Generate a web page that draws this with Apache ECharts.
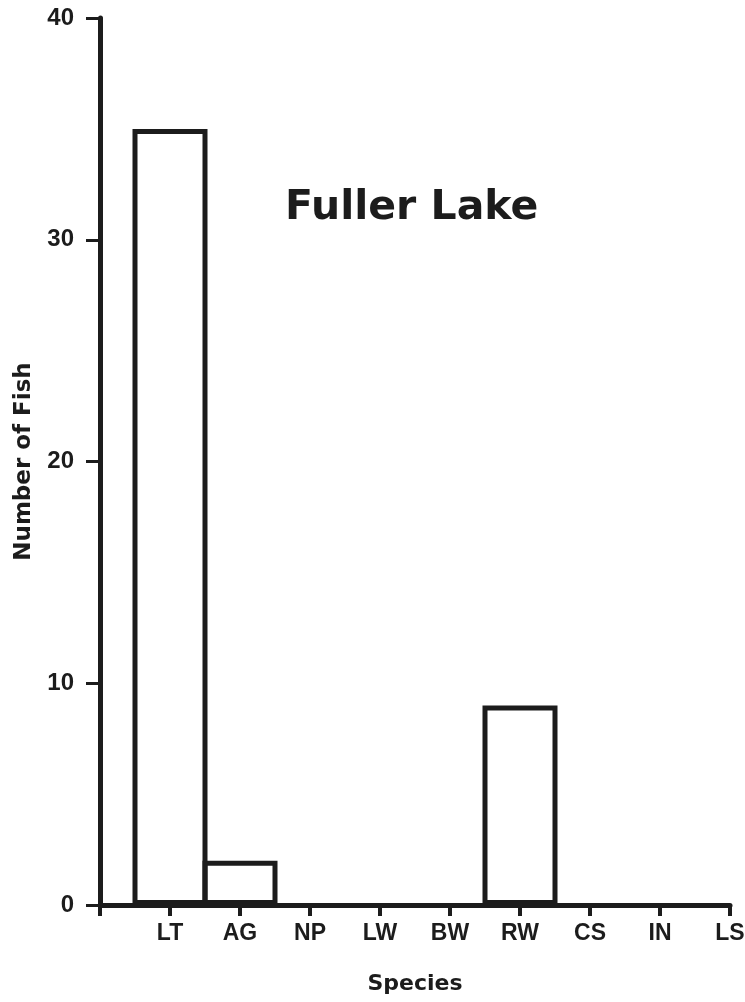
<!DOCTYPE html>
<html>
<head>
<meta charset="utf-8">
<title>Fuller Lake</title>
<script src="https://cdn.jsdelivr.net/npm/echarts@6/dist/echarts.min.js"></script>
<style>
  html, body { margin: 0; padding: 0; background: #fff; }
  #chart { width: 745px; height: 1002px; }
</style>
</head>
<body>
<div id="chart"></div>
<script>
// 鱼类物种及数量
const species = ['LT', 'AG', 'NP', 'LW', 'BW', 'RW', 'CS', 'IN', 'LS']
const counts = [35, 2, 0, 0, 0, 9, 0, 0, 0]
const yTicks = [0, 10, 20, 30, 40]

const ink = '#1c1c1c'

// 横轴用数值轴：0 在纵轴上，物种依次放在 1..9
// 数量为 0 的柱子不画边框，否则会在横轴上多出一段线
const barData = species.map(function (name, i) {
  const v = counts[i]
  return v === 0
    ? { value: [i + 1, v], itemStyle: { borderWidth: 0 } }
    : { value: [i + 1, v] }
})

const chart = echarts.init(document.getElementById('chart'))
chart.setOption({
  backgroundColor: '#fff',
  animation: false,
  title: {
    text: 'Fuller Lake',
    left: 285,
    top: 188,
    padding: 0,
    textStyle: {
      color: ink,
      fontFamily: 'DejaVu Sans',
      fontWeight: 'bold',
      fontSize: 41
    }
  },
  grid: {
    left: 100,
    right: 15,
    top: 18,
    bottom: 97,
    outerBoundsMode: 'none'
  },
  xAxis: {
    type: 'value',
    min: 0,
    max: species.length,
    interval: 1,
    name: 'Species',
    nameLocation: 'middle',
    nameGap: 68,
    nameTextStyle: {
      color: ink,
      fontFamily: 'DejaVu Sans',
      fontWeight: 'bold',
      fontSize: 22
    },
    axisLine: { show: true, lineStyle: { color: ink, width: 5 } },
    axisTick: {
      show: true,
      length: 11,
      lineStyle: { color: ink, width: 4 }
    },
    axisLabel: {
      margin: 17,
      color: ink,
      fontFamily: 'Liberation Sans',
      fontWeight: 'bold',
      fontSize: 23,
      formatter: function (v) {
        return species[v - 1] || ''
      }
    },
    splitLine: { show: false }
  },
  yAxis: {
    type: 'value',
    min: yTicks[0],
    max: yTicks[yTicks.length - 1],
    interval: yTicks[1] - yTicks[0],
    name: 'Number of Fish',
    nameLocation: 'middle',
    nameGap: 64,
    nameTextStyle: {
      color: ink,
      fontFamily: 'DejaVu Sans',
      fontWeight: 'bold',
      fontSize: 23
    },
    axisLine: { show: true, lineStyle: { color: ink, width: 5 } },
    axisTick: {
      show: true,
      length: 14,
      lineStyle: { color: ink, width: 3 }
    },
    axisLabel: {
      margin: 26,
      color: ink,
      fontFamily: 'Liberation Sans',
      fontWeight: 'bold',
      fontSize: 24
    },
    splitLine: { show: false }
  },
  series: [{
    type: 'bar',
    data: barData,
    barWidth: 75,
    barMinWidth: 75,
    itemStyle: {
      color: 'rgba(255,255,255,0)',
      borderColor: ink,
      borderWidth: 5
    }
  }]
})
</script>
</body>
</html>
